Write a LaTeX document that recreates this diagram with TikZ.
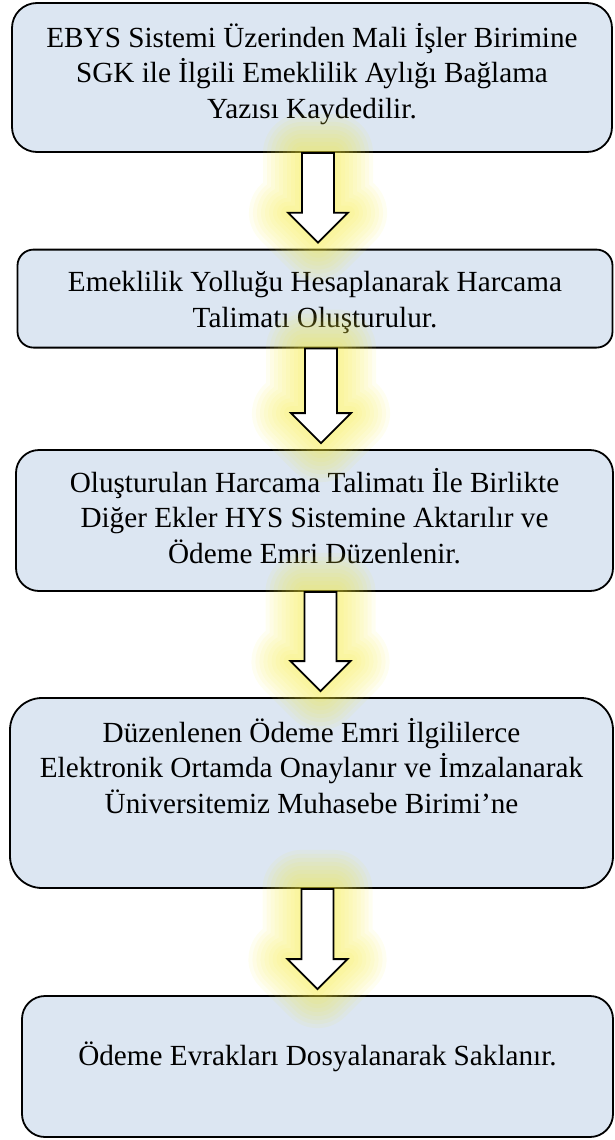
\documentclass[tikz,border=0pt]{standalone}
\usepackage{fontspec}
\setmainfont{Liberation Serif}
\usetikzlibrary{calc}

\definecolor{boxblue}{RGB}{220,230,242}
\definecolor{glowyellow}{RGB}{245,235,60}

\tikzset{
  stepbox/.style={draw=black, line width=1.8pt, fill=boxblue, inner sep=0pt,
    align=center, text depth=0pt, font=\fontsize{29.2}{35.5}\selectfont},
  blockarrow/.style={draw=black, line width=1.8pt, fill=white, line join=miter},
  arrowglow/.style={draw=glowyellow, opacity=0.07, line join=round}
}

\newcommand{\flowarrow}[2]{%
  \foreach \w in {78,70,62,54,46,38,30,22,14,6}{
    \draw[arrowglow, line width=\w pt] let \p1=(#1.south), \p2=(#2.north) in
      (\x1-10pt,\y1) -- (\x1+22pt,\y1) -- (\x1+22pt,\y2+36pt) -- (\x1+36pt,\y2+36pt)
      -- (\x1+6pt,\y2+6pt) -- (\x1-24pt,\y2+36pt) -- (\x1-10pt,\y2+36pt) -- cycle;
  }
  \draw[blockarrow] let \p1=(#1.south), \p2=(#2.north) in
    (\x1-10pt,\y1) -- (\x1+22pt,\y1) -- (\x1+22pt,\y2+36pt) -- (\x1+36pt,\y2+36pt)
    -- (\x1+6pt,\y2+6pt) -- (\x1-24pt,\y2+36pt) -- (\x1-10pt,\y2+36pt) -- cycle;
}

\begin{document}
\begin{tikzpicture}[x=1pt, y=-1pt]
  \useasboundingbox (0,0) rectangle (615,1140);

  \node[stepbox, minimum width=600pt, minimum height=149pt, rounded corners=25pt, text height=81pt] (b1) at (312,77.5)
    {EBYS Sistemi Üzerinden Mali İşler Birimine\\SGK ile İlgili Emeklilik Aylığı Bağlama\\Yazısı Kaydedilir.};
  \node[stepbox, minimum width=595pt, minimum height=98pt, rounded corners=16pt, text height=57pt] (b2) at (315,298.6)
    {Emeklilik Yolluğu Hesaplanarak Harcama\\Talimatı Oluşturulur.};
  \node[stepbox, minimum width=597pt, minimum height=141pt, rounded corners=23pt, text height=85pt] (b3) at (314.5,520.5)
    {Oluşturulan Harcama Talimatı İle Birlikte\\Diğer Ekler HYS Sistemine Aktarılır ve\\Ödeme Emri Düzenlenir.};
  \node[stepbox, minimum width=603pt, minimum height=190pt, rounded corners=32pt, text height=40pt] (b4) at (311.5,793)
    {Düzenlenen Ödeme Emri İlgililerce\\Elektronik Ortamda Onaylanır ve İmzalanarak\\Üniversitemiz Muhasebe Birimi’ne};
  \node[stepbox, minimum width=591pt, minimum height=141pt, rounded corners=23pt, text height=0pt, text depth=3pt] (b5) at (317.5,1066.5)
    {Ödeme Evrakları Dosyalanarak Saklanır.};

  \flowarrow{b1}{b2}
  \flowarrow{b2}{b3}
  \flowarrow{b3}{b4}
  \flowarrow{b4}{b5}
\end{tikzpicture}
\end{document}
